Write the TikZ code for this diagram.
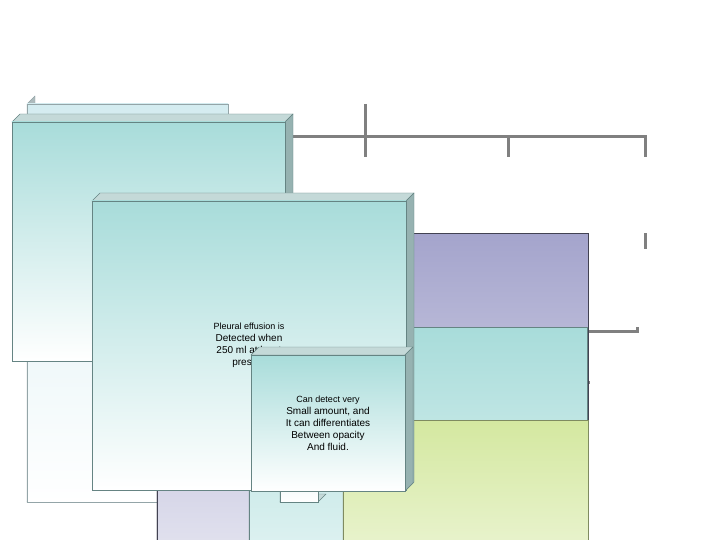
\documentclass[tikz,border=0pt]{standalone}
\usepackage{fontspec}
\setmainfont{Liberation Sans}

\definecolor{cyanbox}{HTML}{D4ECF0}
\definecolor{purplebox}{HTML}{A4A4CC}
\definecolor{tealbox}{HTML}{A8DCDA}
\definecolor{greenbox}{HTML}{D4E8A0}
\definecolor{linegrey}{HTML}{808080}

% box with a bit of depth: name, left, top, right, bottom, colour, edge, text
\newcommand{\cube}[8]{
  \fill[#6!70!gray!60,draw=#7] (#2,#4) -- ++(8,-8) -- ({#3+8},{#4-8}) -- (#3,#4) -- cycle;
  \fill[#6!55!gray,draw=#7] (#3,#4) -- ++(8,-8) -- ({#3+8},{#5-8}) -- (#3,#5) -- cycle;
  \shade[top color=#6,bottom color=white,draw=#7] (#2,#4) rectangle (#3,#5);
  \node[box] (#1) at ({(#2+#3)/2},{(#4+#5)/2}) {#8};
}

\begin{document}
\begin{tikzpicture}[x=1pt,y=-1pt]
  \tikzset{box/.style={align=center,inner sep=1pt,font=\fontsize{10}{12}\selectfont}}
  \tikzset{conn/.style={draw=linegrey,line width=3pt}}
  \useasboundingbox (0,0) rectangle (720,540);

% connectors (drawn first, boxes on top)
\coordinate (bus) at (365,137);
\draw[conn] (365,104) -- (bus);
\draw[conn] (155,157) |- (645,137) -- (645,157);
\draw[conn] (bus) -- (365,157);
\draw[conn] (508,137) -- (508,157);
\draw[conn] (146,233) -- (146,268);
\draw[conn] (78,285) |- (235,268) -- (235,285);
\draw[conn] (353,233) |- (422,262) -- (422,280);
\draw[conn] (645,233) -- (645,249);
\draw[conn] (637,327) |- (580,331) |- (590,382);
\draw[conn] (66,361) |- (92,448);
\draw[conn] (225,361) |- (251,448);

\cube{inv}{228}{27}{502}{104}{cyanbox}{cyanbox!70!black}{\fontsize{19}{22}\selectfont Investigations}
\cube{xray}{91}{157}{201}{233}{purplebox}{purplebox!40!black}{\fontsize{22}{26}\selectfont X-ray}
\cube{us}{287}{157}{421}{233}{purplebox}{purplebox!40!black}{\fontsize{13}{16}\selectfont Ultrasound}
\cube{ct}{437}{157}{560}{233}{purplebox}{purplebox!40!black}{\fontsize{20}{24}\selectfont Ct-scan}
\cube{pa}{588}{157}{699}{233}{purplebox}{purplebox!40!black}{\fontsize{14}{17}\selectfont Pleural\\ \fontsize{14}{17}\selectfont aspiration}
\cube{diag}{587}{249}{687}{327}{tealbox}{tealbox!60!black}{\fontsize{12}{14}\selectfont Diagnostic}
\cube{ther}{588}{343}{687}{420}{greenbox}{greenbox!60!black}{\fontsize{12}{14}\selectfont Therapeutic}
\cube{paview}{12}{285}{122}{361}{tealbox}{tealbox!60!black}{\fontsize{15}{18}\selectfont PA veiw}
\cube{lat}{175}{285}{285}{361}{tealbox}{tealbox!60!black}{\fontsize{15}{18}\selectfont Lateral\\ \fontsize{15}{18}\selectfont decubitus}
\cube{usnote}{318}{280}{502}{383}{tealbox}{tealbox!60!black}{\fontsize{9}{14}\selectfont Can detect as little as\\ 5ml, and aids differentiation\\ Of pleyral fluid from pleural\\ Fibrosis,thickening or\\ Consolodation.}
\cube{panote}{92}{406}{201}{490}{tealbox}{tealbox!60!black}{\fontsize{9}{14}\selectfont Pleural effusion is\\ Detected when\\ 250 ml at least\\ present}
\cube{latnote}{251}{405}{355}{491}{tealbox}{tealbox!60!black}{\fontsize{9}{14}\selectfont Can detect very\\ Small amount, and\\ It can differentiates\\ Between opacity\\ And fluid.}
\end{tikzpicture}
\end{document}
